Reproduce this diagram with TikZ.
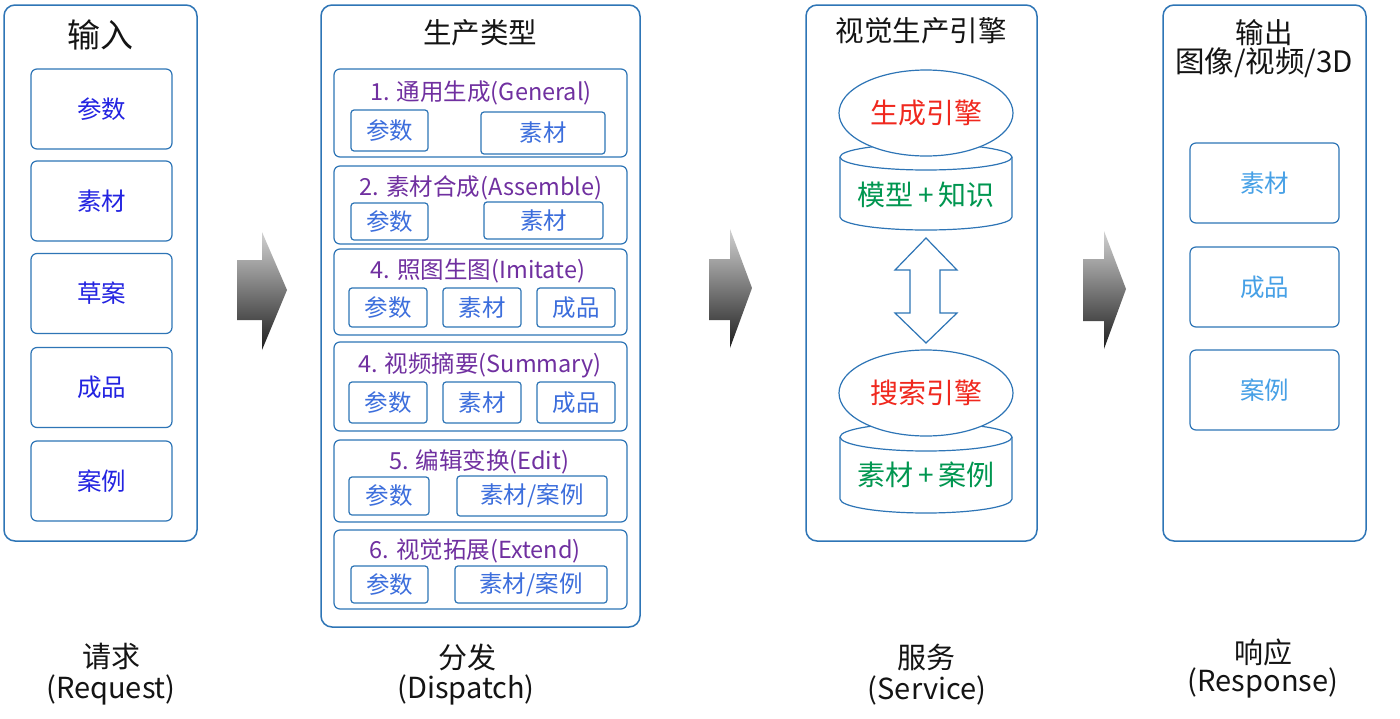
\documentclass[tikz,border=0pt]{standalone}
\usepackage{fontspec}
\setmainfont{Noto Sans CJK SC}
\usetikzlibrary{shapes.geometric}
\definecolor{frame}{RGB}{46,117,182}
\definecolor{txtblue}{RGB}{35,35,225}
\definecolor{purp}{RGB}{112,48,160}
\definecolor{midblue}{RGB}{60,110,220}
\definecolor{lightblue}{RGB}{70,160,230}
\definecolor{engred}{RGB}{240,40,30}
\definecolor{enggreen}{RGB}{0,150,80}
\definecolor{titlegray}{RGB}{20,20,20}
\tikzset{
  panel/.style={draw=frame, line width=1.5pt, rounded corners=11pt, fill=white, inner sep=0pt},
  subpanel/.style={draw=frame, line width=1.2pt, rounded corners=6pt, inner sep=0pt, minimum width=293pt},
  inbox/.style={draw=frame, line width=1.2pt, rounded corners=6pt, inner sep=0pt, minimum width=141pt, minimum height=80pt, font=\fontsize{24.5}{28}\selectfont},
  smallbox/.style={draw=frame, line width=1.2pt, rounded corners=3pt, inner sep=0pt, text=midblue, font=\fontsize{23.5}{27}\selectfont},
  ptitle/.style={text=titlegray, inner sep=0pt, font=\fontsize{28.5}{32}\selectfont},
  subtitle/.style={text=purp, inner sep=0pt, font=\fontsize{23.5}{26}\selectfont},
  bottomlabel/.style={text=titlegray, inner sep=0pt, font=\fontsize{29}{32}\selectfont},
  engine/.style={ellipse, draw=frame, line width=1.2pt, fill=white, inner sep=0pt, minimum width=174pt, minimum height=86pt, text=engred, font=\fontsize{28}{32}\selectfont},
  cyl/.style={draw=frame, line width=1.2pt, fill=white},
  dbtext/.style={text=enggreen, inner sep=0pt, font=\fontsize{28}{32}\selectfont},
  flowarrow/.style={top color=black!18, bottom color=black!88}
}
\begin{document}
\begin{tikzpicture}[x=1pt,y=-1pt]
\useasboundingbox[fill=white] (0,0) rectangle (1400,718);

% ---------- Panel 1 : input ----------
\node[panel, minimum width=193pt, minimum height=536pt] (p1) at (100.5,273) {};
\node[ptitle, font=\fontsize{33}{36}\selectfont] (p1t) at (100,35) {输入};
\node[inbox, text=txtblue] (i1) at (101.5,109) {参数};
\node[inbox, text=txtblue] (i2) at (101.5,201) {素材};
\node[inbox, text=txtblue] (i3) at (101.5,293.5) {草案};
\node[inbox, text=txtblue] (i4) at (101.5,387.5) {成品};
\node[inbox, text=txtblue] (i5) at (101.5,481) {案例};
\node[bottomlabel] (l1a) at (111,656) {请求};
\node[bottomlabel] (l1b) at (111,690) {(Request)};

% ---------- Arrow 1 ----------
\shade[flowarrow] (237,260) -- (262,260) -- (262,232) -- (287,290) -- (262,350) -- (262,320) -- (237,320) -- cycle;

% ---------- Panel 2 : dispatch ----------
\node[panel, minimum width=319pt, minimum height=622pt] (p2) at (480.5,316) {};
\node[ptitle] (p2t) at (480,33) {生产类型};

\node[subpanel, minimum height=88pt] (s1) at (480.5,113) {};
\node[subtitle] (s1t) at (481,93) {1. 通用生成(General)};
\node[smallbox, minimum width=77pt, minimum height=41pt] (s1a) at (389.5,130.5) {参数};
\node[smallbox, minimum width=124pt, minimum height=42pt] (s1b) at (543,133) {素材};

\node[subpanel, minimum height=78pt] (s2) at (480.5,205) {};
\node[subtitle] (s2t) at (481,188) {2. 素材合成(Assemble)};
\node[smallbox, minimum width=77pt, minimum height=37pt] (s2a) at (389.5,221.5) {参数};
\node[smallbox, minimum width=119pt, minimum height=37pt] (s2b) at (543.5,220.5) {素材};

\node[subpanel, minimum height=86pt] (s3) at (480.5,292) {};
\node[subtitle] (s3t) at (478,271) {4. 照图生图(Imitate)};
\node[smallbox, minimum width=78pt, minimum height=39pt] (s3a) at (388,307.5) {参数};
\node[smallbox, minimum width=78pt, minimum height=39pt] (s3b) at (482,307.5) {素材};
\node[smallbox, minimum width=78pt, minimum height=39pt] (s3c) at (576,307.5) {成品};

\node[subpanel, minimum height=89pt] (s4) at (480.5,386.5) {};
\node[subtitle] (s4t) at (480,365) {4. 视频摘要(Summary)};
\node[smallbox, minimum width=78pt, minimum height=41pt] (s4a) at (388,402.5) {参数};
\node[smallbox, minimum width=78pt, minimum height=41pt] (s4b) at (482,402.5) {素材};
\node[smallbox, minimum width=78pt, minimum height=41pt] (s4c) at (576,402.5) {成品};

\node[subpanel, minimum height=82pt] (s5) at (480.5,481) {};
\node[subtitle] (s5t) at (479,462) {5. 编辑变换(Edit)};
\node[smallbox, minimum width=80pt, minimum height=38pt] (s5a) at (389,496) {参数};
\node[smallbox, minimum width=150pt, minimum height=40pt] (s5b) at (532,496) {素材/案例};

\node[subpanel, minimum height=79pt] (s6) at (480.5,569.5) {};
\node[subtitle] (s6t) at (475,551) {6. 视觉拓展(Extend)};
\node[smallbox, minimum width=77pt, minimum height=37pt] (s6a) at (389.5,584.5) {参数};
\node[smallbox, minimum width=152pt, minimum height=37pt] (s6b) at (531,584.5) {素材/案例};

\node[bottomlabel] (l2a) at (467,657) {分发};
\node[bottomlabel] (l2b) at (466,690) {(Dispatch)};

% ---------- Arrow 2 ----------
\shade[flowarrow] (709,259) -- (730,259) -- (730,229) -- (752,288) -- (730,348) -- (730,320) -- (709,320) -- cycle;

% ---------- Panel 3 : service ----------
\node[panel, minimum width=231pt, minimum height=536pt] (p3) at (921.5,273) {};
\node[ptitle] (p3t) at (921,31) {视觉生产引擎};

% cylinder 1
\path[cyl, draw=none] (840,157) -- (840,217) arc[start angle=180, end angle=0, x radius=86, y radius=13]
  -- (1012,157) arc[start angle=0, end angle=-180, x radius=86, y radius=13] -- cycle;
\draw[cyl, fill=none] (840,157) -- (840,217) arc[start angle=180, end angle=0, x radius=86, y radius=13] -- (1012,157);
\draw[cyl, fill=none] (926,157) ellipse[x radius=86, y radius=13];
\node[dbtext] (db1) at (926,195) {模型\,+\,知识};
\node[engine] (gen) at (926,113) {生成引擎};

% double arrow
\draw[cyl] (926,238) -- (957,270) -- (940,270) -- (940,313) -- (957,313) -- (926,343)
  -- (895,313) -- (910,313) -- (910,270) -- (895,270) -- cycle;

% cylinder 2
\path[cyl, draw=none] (840,437) -- (840,499) arc[start angle=180, end angle=0, x radius=86, y radius=14]
  -- (1012,437) arc[start angle=0, end angle=-180, x radius=86, y radius=14] -- cycle;
\draw[cyl, fill=none] (840,437) -- (840,499) arc[start angle=180, end angle=0, x radius=86, y radius=14] -- (1012,437);
\draw[cyl, fill=none] (926,437) ellipse[x radius=86, y radius=14];
\node[dbtext] (db2) at (926,475) {素材\,+\,案例};
\node[engine] (search) at (926,393) {搜索引擎};

\node[bottomlabel] (l3a) at (926,657) {服务};
\node[bottomlabel] (l3b) at (927,690) {(Service)};

% ---------- Arrow 3 ----------
\shade[flowarrow] (1083,259) -- (1104,259) -- (1104,231) -- (1126,289) -- (1104,349) -- (1104,321) -- (1083,321) -- cycle;

% ---------- Panel 4 : response ----------
\node[panel, minimum width=203pt, minimum height=536pt] (p4) at (1264.5,273) {};
\node[ptitle] (p4t) at (1264,33) {输出};
\node[ptitle, font=\fontsize{29.5}{32}\selectfont] (p4s) at (1264,63) {图像/视频/3D};
\node[inbox, minimum width=149pt, text=lightblue] (o1) at (1264.5,183) {素材};
\node[inbox, minimum width=149pt, text=lightblue] (o2) at (1264.5,287) {成品};
\node[inbox, minimum width=149pt, text=lightblue] (o3) at (1264.5,390) {案例};
\node[bottomlabel] (l4a) at (1263,652) {响应};
\node[bottomlabel] (l4b) at (1263,683) {(Response)};
\end{tikzpicture}
\end{document}
